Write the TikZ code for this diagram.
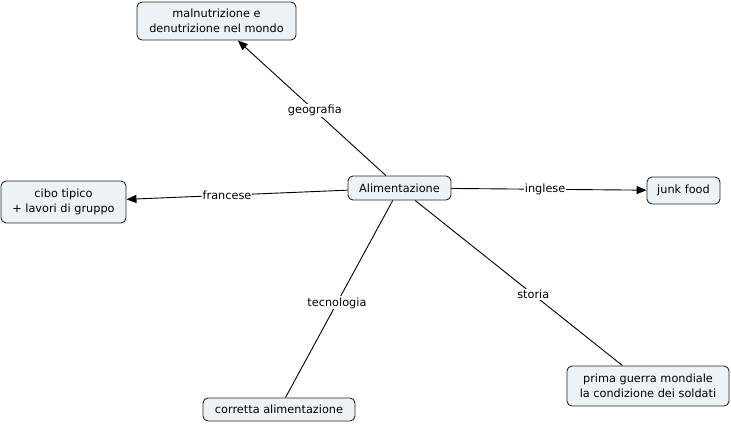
\documentclass[tikz,border=0pt]{standalone}
\usepackage{fontspec}
\setmainfont{DejaVu Sans}
\usetikzlibrary{arrows.meta}
\definecolor{boxfill}{HTML}{ECF2F5}
\tikzset{
  concept/.style={draw=black!85, fill=boxfill, rounded corners=5pt, line width=0.9pt,
    align=center, inner sep=0pt, font=\fontsize{11.3}{14.5}\selectfont},
  link/.style={draw=black, line width=0.9pt},
  arrowlink/.style={link, -{Triangle[length=10pt,width=8pt]}},
  lbl/.style={fill=white, inner sep=1pt, font=\fontsize{11.3}{14}\selectfont}
}
\begin{document}
\begin{tikzpicture}[x=1pt,y=-1pt]
\useasboundingbox (0,0) rectangle (731,425);
\node[concept, minimum width=103pt, minimum height=24pt] (ali) at (399.5,188) {Alimentazione};
\node[concept, minimum width=159pt, minimum height=38pt] (mal) at (216.5,21) {malnutrizione e\\denutrizione nel mondo};
\node[concept, minimum width=125pt, minimum height=42pt] (cibo) at (63.5,202) {cibo tipico\\+ lavori di gruppo};
\node[concept, minimum width=73pt, minimum height=27pt] (junk) at (683.5,190.5) {junk food};
\node[concept, minimum width=162pt, minimum height=40pt] (guerra) at (648,386) {prima guerra mondiale\\la condizione dei soldati};
\node[concept, minimum width=152pt, minimum height=23pt] (corr) at (279,409.5) {corretta alimentazione};
\draw[arrowlink] (ali) -- node[lbl, pos=0.48] (lgeo) {geografia} (mal);
\draw[arrowlink] (ali) -- node[lbl, pos=0.545] (lfra) {francese} (cibo);
\draw[arrowlink] (ali) -- node[lbl, pos=0.48] (ling) {inglese} (junk);
\draw[link] (ali) -- node[lbl, pos=0.57] (lsto) {storia} (guerra);
\draw[link] (ali) -- node[lbl, pos=0.52] (ltec) {tecnologia} (corr);
\end{tikzpicture}
\end{document}
